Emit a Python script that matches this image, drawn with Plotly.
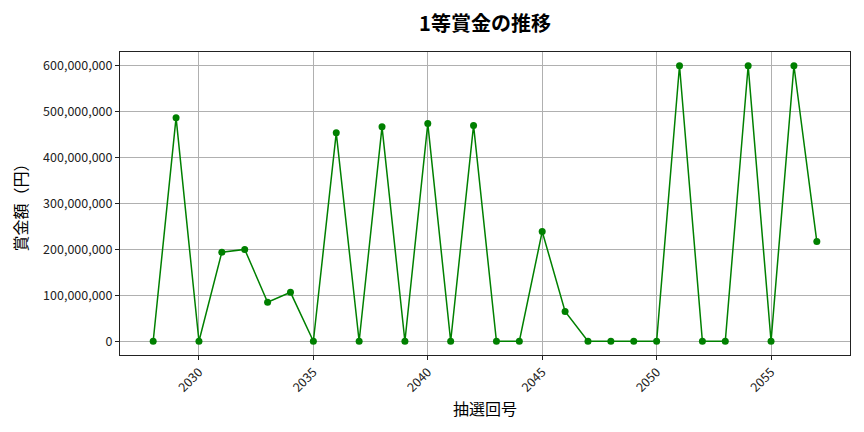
import plotly.graph_objects as go

# 抽選回号と1等賞金
draw_no = list(range(2028, 2058))
prize = [
    0, 487000000, 0, 194000000, 200000000, 85000000, 106500000, 0,
    454000000, 0, 467000000, 0, 474000000, 0, 470000000, 0, 0,
    239000000, 65000000, 0, 0, 0, 0, 600000000, 0, 0, 600000000,
    0, 600000000, 217000000,
]
x_ticks = [2030, 2035, 2040, 2045, 2050, 2055]
y_ticks = [0, 100000000, 200000000, 300000000, 400000000, 500000000, 600000000]

FONT = "Noto Sans CJK JP"

fig = go.Figure(go.Scatter(
    x=draw_no, y=prize, mode="lines+markers",
    line=dict(color="green", width=1.5),
    marker=dict(color="green", size=7),
))

# page body adds ~8px offset, so margins are shifted to compensate
fig.update_layout(
    width=864, height=432,
    margin=dict(l=109, r=22, t=44, b=85),
    paper_bgcolor="white", plot_bgcolor="white",
    font=dict(family=FONT, size=12.5, color="#222"),
    showlegend=False,
    title=dict(text="<b>1等賞金の推移</b>", xref="paper", x=0.5, xanchor="center",
               y=0.963, yanchor="middle", font=dict(size=20, color="black")),
)
fig.update_xaxes(
    range=[2026.55, 2058.45], tickvals=x_ticks, tickangle=-45,
    showgrid=True, gridcolor="#b0b0b0", gridwidth=0.8,
    showline=True, linecolor="#222", linewidth=1, mirror=True,
    ticks="outside", ticklen=4, tickcolor="#222", zeroline=False,
    title=dict(text="抽選回号", font=dict(size=16, color="black"), standoff=9),
)
fig.update_yaxes(
    range=[-30000000, 630000000], tickvals=y_ticks, tickformat=",d",
    showgrid=True, gridcolor="#b0b0b0", gridwidth=0.8,
    showline=True, linecolor="#222", linewidth=1, mirror=True,
    ticks="outside", ticklen=4, tickcolor="#222", zeroline=False,
    title=dict(text="賞金額（円）", font=dict(size=16, color="black"), standoff=12),
)

fig.write_html("out.html")
